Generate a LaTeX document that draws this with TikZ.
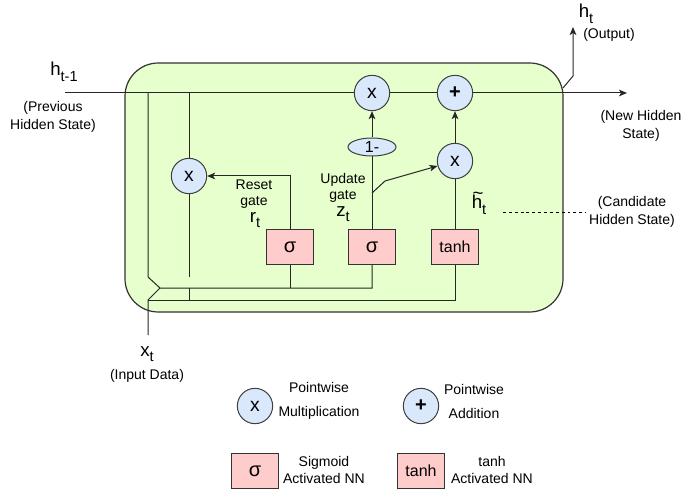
\documentclass[tikz,border=0pt]{standalone}
\usepackage{fontspec}
\setmainfont{Liberation Sans}
\usepackage{graphicx}
\usetikzlibrary{arrows.meta,shapes.geometric}
\definecolor{cellgreen}{HTML}{E6FFCC}
\definecolor{opblue}{HTML}{DAE8FC}
\definecolor{gatepink}{HTML}{FFCCCC}
% letter with a lowered index, e.g. h_{t-1}
\newcommand{\idx}[2]{#1\raisebox{-0.55ex}{\scalebox{0.78}{#2}}}
% h with a tilde set well above it
\newcommand{\tildeh}{\rlap{\raisebox{0.52em}{\hspace{0.05em}\textasciitilde}}h}
\tikzset{
  cell/.style={draw=black!80, fill=cellgreen, line width=0.9pt, rounded corners=25pt},
  wire/.style={draw=black!85, line width=0.75pt},
  flow/.style={wire, -{Stealth[length=6pt,width=5pt,inset=1.5pt]}},
  guide/.style={draw=black, line width=0.6pt, dash pattern=on 2.2pt off 2.2pt},
  opnode/.style={circle, draw=black!75, fill=opblue, line width=0.75pt, minimum size=26.5pt, inner sep=0pt, font=\fontsize{14.5}{14.5}\selectfont},
  plusfont/.style={font=\fontsize{15}{15}\selectfont\bfseries},
  gatebox/.style={rectangle, draw=black!80, fill=gatepink, line width=0.75pt, minimum width=35pt, minimum height=26pt, inner sep=0pt, font=\fontsize{12}{12}\selectfont},
  sigmafont/.style={font=\fontsize{15}{15}\selectfont},
  oneshape/.style={ellipse, draw=black!75, fill=opblue, line width=0.75pt, minimum width=36pt, minimum height=13.5pt, inner sep=0pt, font=\fontsize{12}{12}\selectfont},
  note/.style={font=\fontsize{10.5}{13}\selectfont, align=center, inner sep=0pt},
  varlabel/.style={font=\fontsize{14}{14}\selectfont, inner sep=0pt},
}

\begin{document}
\begin{tikzpicture}[x=0.75pt,y=-0.75pt]
\useasboundingbox (0,0) rectangle (685,495);
% the cell
\draw[cell] (125,63) rectangle (563,312);
% pointwise ops and gates
\node[opnode] (mulr) at (189,176) {x};
\node[opnode] (mulz) at (372,93) {x};
\node[opnode,plusfont] (add) at (455,93) {+};
\node[opnode] (mulh) at (455,161) {x};
\node[oneshape] (one) at (372,147) {1-};
\node[gatebox,sigmafont] (sigr) at (290,247) {σ};
\node[gatebox,sigmafont] (sigz) at (372,247) {σ};
\node[gatebox] (tanhg) at (455,247) {tanh};
\coordinate (hin) at (65,93);
\coordinate (hout) at (627,93);
\coordinate (xin) at (148,335);
\coordinate (hup) at (573,27);
% hidden state path
\draw[wire] (hin) -- (mulz);
\draw[wire] (mulz) -- (add);
\draw[flow] (add) -- (hout);
\draw[flow] (563,88) -- (573,76) -- (hup);
% h_{t-1} and x_t feeding the gates
\draw[wire] (148,93) -- (148,277) -- (160,288) -| (sigz.south);
\draw[wire] (sigr.south) -- (290,288);
\draw[wire] (xin) -- (148,300) -- (160,288);
\draw[wire] (148,300) -| (tanhg.south);
\draw[wire] (189,93) -- (mulr);
\draw[wire] (mulr) -- (189,277);
\draw[wire] (189,288) -- (189,300);
% gate outputs
\draw[flow] (sigr.north) |- (mulr.east);
\draw[wire] (sigz) -- (one);
\draw[flow] (one) -- (mulz);
\draw[flow] (372,193) -- (385,181) -- (mulh);
\draw[wire] (tanhg) -- (mulh);
\draw[flow] (mulh) -- (add);
% labels
\node[varlabel] (hprev) at (64,72) {\idx{h}{t-1}};
\node[note] (hprevnote) at (53,117) {(Previous\\[1pt]Hidden State)};
\node[note] (hnewnote) at (641,126) {(New Hidden\\[1pt]State)};
\node[varlabel] (hnow) at (586,14) {\idx{h}{t}};
\node[note] (outnote) at (609,35) {(Output)};
\node[note] (resetnote) at (254,194) {Reset\\[-1pt]gate};
\node[varlabel] (rlab) at (255,220) {\idx{r}{t}};
\node[note] (updnote) at (343,188) {Update\\[-1pt]gate};
\node[varlabel] (zlab) at (343,214) {\idx{z}{t}};
\node[varlabel] (hcand) at (479,203) {\idx{\tildeh}{t}};
\node[note] (candnote) at (632,212) {(Candidate\\Hidden State)};
\coordinate (dashl) at (503,212);
\coordinate (dashr) at (586,212);
\draw[guide] (dashl) -- (dashr);
\node[varlabel] (xlab) at (147,354) {\idx{x}{t}};
\node[note] (xnote) at (147,376) {(Input Data)};
% key
\node[opnode] (keymul) at (255,406) {x};
\node[note] (keymulnote) at (319,401) {Pointwise\\[5pt]Multiplication};
\node[opnode,plusfont] (keyadd) at (421,406) {+};
\node[note] (keyaddnote) at (474,401) {Pointwise\\[5pt]Addition};
\node[gatebox,sigmafont] (keysig) at (255,471) {σ};
\node[note] (keysignote) at (324,470) {Sigmoid\\Activated NN};
\node[gatebox] (keytanh) at (421,471) {tanh};
\node[note] (keytanhnote) at (492,470) {tanh\\Activated NN};
\end{tikzpicture}
\end{document}
